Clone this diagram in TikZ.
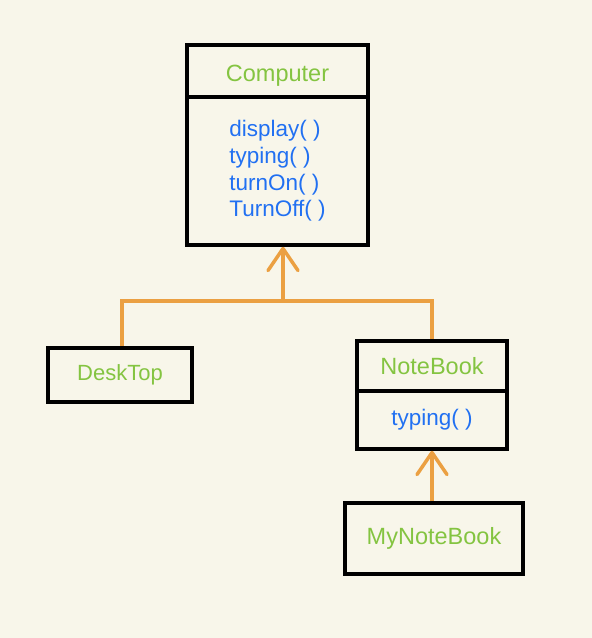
\documentclass[tikz,border=0pt]{standalone}
\usepackage{fontspec}
\setmainfont{Liberation Sans}
\usetikzlibrary{arrows.meta}
\definecolor{paper}{HTML}{F8F6EA}
\definecolor{classgreen}{HTML}{84C441}
\definecolor{methodblue}{HTML}{2170F2}
\definecolor{linkorange}{HTML}{EBA042}
\tikzset{
    box/.style={draw=black, line width=3.6pt, inner sep=0pt},
    title/.style={box, text=classgreen, font=\fontsize{23.5}{28}\selectfont},
    methods/.style={box, text=methodblue, align=left, font=\fontsize{22.5}{26.7}\selectfont},
    link/.style={draw=linkorange, line width=3.5pt},
    inherit/.style={link, -{Straight Barb[length=22pt,width=30pt,round]}}
}
\begin{document}
\begin{tikzpicture}[x=1pt, y=-1pt]
    \fill[paper] (0,0) rectangle (592,638);
    \useasboundingbox (0,0) rectangle (592,638);
    \node (comptitle) at (277.5,71) [title, text height=26pt, minimum width=181pt, minimum height=52pt] {Computer};
    \node (compbody) at (277.5,171) [methods, minimum width=181pt, minimum height=148pt]
        {display( )\\typing( )\\turnOn( )\\TurnOff( )};
    \node (desktop) at (120,375) [title, font=\fontsize{22}{26}\selectfont, minimum width=144pt, minimum height=54pt] {DeskTop};
    \node (notetitle) at (432,366) [title, minimum width=150pt, minimum height=50pt] {NoteBook};
    \node (notebody) at (432,420) [methods, minimum width=150pt, minimum height=58pt] {typing( )};
    \node (mynote) at (434,538.5) [title, minimum width=178pt, minimum height=71pt] {MyNoteBook};
    \coordinate (split) at (283,301);
    \draw[link] (desktop.north -| 122,0) |- (split);
    \draw[link] (notetitle.north) |- (split);
    \draw[inherit] (split) -- (compbody.south -| split);
    \draw[inherit] (mynote.north -| notebody.south) -- (notebody.south);
\end{tikzpicture}
\end{document}
